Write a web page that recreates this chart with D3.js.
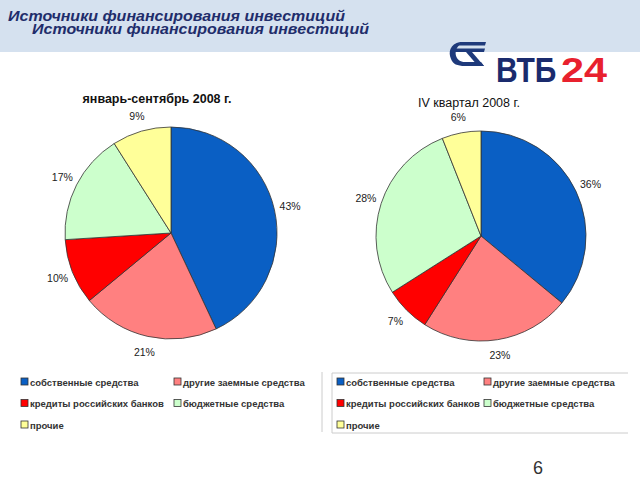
<!DOCTYPE html>
<html><head><meta charset="utf-8">
<script src="https://cdn.jsdelivr.net/npm/d3@7"></script>
<style>body{margin:0;background:#fff}svg{display:block}</style>
</head><body>
<svg id="c" width="640" height="480"></svg>
<script>
const categories = ["собственные средства","другие заемные средства","кредиты российских банков","бюджетные средства","прочие"];
const colors = ["#0a5fc4","#ff8080","#ff0000","#ccffcc","#ffff99"];
const series1 = [43,21,10,17,9];
const series2 = [36,23,7,28,6];
const title1 = "январь-сентябрь 2008 г.";
const title2 = "IV квартал 2008 г.";
const headerTitle = "Источники финансирования инвестиций";
const pageNo = "6";

const svg = d3.select("#c");
// header band
svg.append("rect").attr("x",0).attr("y",0).attr("width",640).attr("height",52).attr("fill","#d5e1ef");
const ht = svg.append("text").attr("font-family","Liberation Sans, Arial").attr("font-style","italic").attr("font-weight","bold")
  .attr("font-size",15).attr("fill","#1f2d6b");
ht.append("tspan").attr("x",8).attr("y",21).attr("textLength",337).attr("lengthAdjust","spacingAndGlyphs").text(headerTitle);
ht.append("tspan").attr("x",32).attr("y",34).attr("textLength",337).attr("lengthAdjust","spacingAndGlyphs").text(headerTitle);

// logo
const logo = svg.append("g");
const lc = "#1e3a7b";
logo.append("path").attr("d","M460,42 L486,42 L485,45.5 L458,45.5 Z").attr("fill",lc);
logo.append("path").attr("d","M455,48.5 L485,48.5 L484,52 L454,52 Z").attr("fill",lc);
logo.append("path").attr("d","M460,42 C450,44 448,52 451,59 C453,64 457,66 465,66 L484,66 L481,62 L465,62 C455,62 453,51 459,45.5 Z").attr("fill",lc);
logo.append("path").attr("d","M466,52 L472,52 L484,66 L478,66 Z").attr("fill",lc);
const lg = logo.append("g").attr("transform","translate(0,82) scale(1,1.17)");
lg.append("text").attr("x",496).attr("y",0).attr("font-family","Liberation Sans, Arial").attr("font-weight","bold").attr("font-size",30)
  .attr("fill","#1a2b6d").text("ВТБ");
lg.append("text").attr("x",561).attr("y",0).attr("font-family","Liberation Sans, Arial").attr("font-weight","bold").attr("font-size",30)
  .attr("fill","#e8212e").attr("textLength",46).attr("lengthAdjust","spacingAndGlyphs").text("24");

function drawPie(data, cx, cy, r, title, tx, ty, bold){
  const g = svg.append("g").attr("transform",`translate(${cx},${cy})`);
  const pie = d3.pie().sort(null).value(d=>d)(data);
  const arc = d3.arc().innerRadius(0).outerRadius(r);
  const lab = d3.arc().innerRadius(r+16).outerRadius(r+16);
  g.selectAll("path.s").data(pie).join("path").attr("class","s")
    .attr("d",arc).attr("fill",(d,i)=>colors[i]).attr("stroke","#333").attr("stroke-width",0.8);
  g.selectAll("text.l").data(pie).join("text").attr("class","l")
    .attr("transform",d=>`translate(${lab.centroid(d)})`).attr("text-anchor","middle").attr("dy","0.35em")
    .attr("font-family","Liberation Sans, Arial").attr("font-size",10.5).attr("fill","#222")
    .text(d=>d.data+"%");
  svg.append("text").attr("x",tx).attr("y",ty).attr("text-anchor","middle")
    .attr("font-family","Liberation Sans, Arial").attr("font-size",12.5).attr("font-weight",bold?"bold":"normal")
    .attr("fill","#111").text(title);
}
drawPie(series1,171,233,106,title1,157,103,true);
drawPie(series2,481,236,105,title2,469,107,false);

// legends
function legend(x0, colX2){
  const items = categories.map((c,i)=>({c,i}));
  const pos = [[0,0],[1,0],[0,1],[1,1],[0,2]];
  const g = svg.append("g");
  g.selectAll("g.it").data(items).join("g").attr("class","it").each(function(d){
    const p = pos[d.i];
    const x = p[0]===0? x0 : colX2;
    const y = 382 + p[1]*21.5;
    const s = d3.select(this);
    s.append("rect").attr("x",x).attr("y",y-4).attr("width",7).attr("height",7).attr("fill",colors[d.i]).attr("stroke","#333").attr("stroke-width",0.8);
    s.append("text").attr("x",x+9).attr("y",y+3.5).attr("font-family","Liberation Sans, Arial").attr("font-weight","bold")
      .attr("font-size",9.5).attr("fill","#333").text(d.c);
  });
}
legend(21,174);
legend(337,484);
// right legend frame
svg.append("line").attr("x1",322).attr("x2",322).attr("y1",372).attr("y2",432).attr("stroke","#ccc");
svg.append("path").attr("d","M628,373 L332,373 L332,433 L628,433").attr("fill","none").attr("stroke","#ccc");

svg.append("text").attr("x",533).attr("y",474).attr("font-family","Liberation Sans, Arial").attr("font-size",18).attr("fill","#333").text(pageNo);
</script>
</body></html>
